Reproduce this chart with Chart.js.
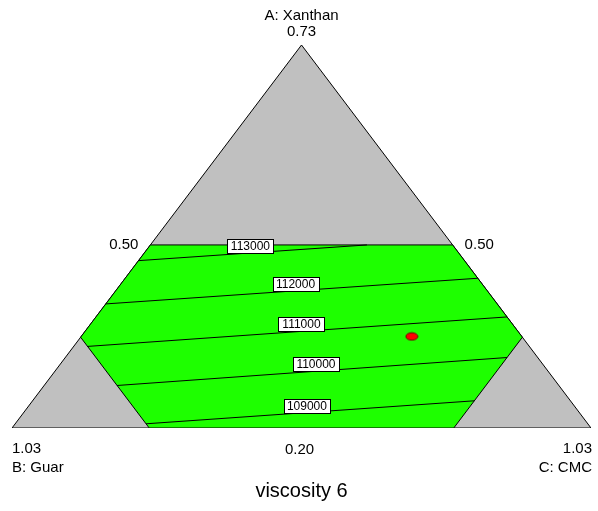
<!DOCTYPE html>
<html>
<head>
<meta charset="utf-8">
<script src="https://cdn.jsdelivr.net/npm/chart.js@4/dist/chart.umd.min.js"></script>
<style>
  html, body { margin: 0; padding: 0; background: #ffffff; }
  canvas { display: block; }
</style>
</head>
<body>
<canvas id="ternaryChart" width="598" height="511"></canvas>
<script>
// Ternary plot: viscosity 6 (pseudo component fractions a, b, c)
const vertexNames = ['A: Xanthan', 'B: Guar', 'C: CMC'];
const vertexMax = ['0.73', '1.03', '1.03'];
const edgeLabels = ['0.50', '0.50', '0.20'];
const chartTitle = 'viscosity 6';

// feasible region corners
const regionA = [0.478, 0.478, 0.237, 0.000, 0.000, 0.237];
const regionC = [0.000, 0.522, 0.763, 0.763, 0.237, 0.000];

// contour lines (start and end on region boundary)
const contourLevels = [113000, 112000, 111000, 110000, 109000];
const contourStartA = [0.437, 0.324, 0.213, 0.111, 0.011];
const contourStartC = [0.000, 0.000, 0.024, 0.126, 0.226];
const contourEndA = [0.478, 0.391, 0.290, 0.184, 0.071];
const contourEndC = [0.374, 0.609, 0.710, 0.763, 0.763];
const labelAt = [0.49, 0.51, 0.51, 0.51, 0.49];

// design point
const pointA = [0.239];
const pointC = [0.571];

const fontFamily = 'Arial, "Liberation Sans", sans-serif';

// a, c -> cartesian (b = 1 - a - c)
function toXY(a, c) {
  return { x: c + a / 2, y: a };
}

const trianglePts = [toXY(1, 0), toXY(0, 0), toXY(0, 1), toXY(1, 0)];
const regionPts = regionA.map((a, i) => toXY(a, regionC[i]));
regionPts.push(regionPts[0]);

const contourSets = contourLevels.map((level, i) => ({
  label: String(level),
  level: level,
  data: [toXY(contourStartA[i], contourStartC[i]), toXY(contourEndA[i], contourEndC[i])],
  borderColor: '#000000',
  borderWidth: 1,
  showLine: true,
  pointRadius: 0,
  fill: false,
  order: 3
}));

// small ellipse for the design point
const dotStyle = document.createElement('canvas');
dotStyle.width = 14;
dotStyle.height = 10;
(function() {
  const g = dotStyle.getContext('2d');
  g.beginPath();
  g.ellipse(7, 5, 6, 3.7, 0, 0, Math.PI * 2);
  g.fillStyle = '#ff0000';
  g.fill();
  g.strokeStyle = '#700000';
  g.lineWidth = 1;
  g.stroke();
})();

const ternaryText = {
  id: 'ternaryText',
  afterDatasetsDraw(chart) {
    const ctx = chart.ctx;
    const xs = chart.scales.x, ys = chart.scales.y;
    const px = p => xs.getPixelForValue(p.x);
    const py = p => ys.getPixelForValue(p.y);

    // contour labels
    ctx.save();
    ctx.font = '12px ' + fontFamily;
    ctx.textAlign = 'center';
    ctx.textBaseline = 'middle';
    chart.data.datasets.forEach((ds, i) => {
      if (!ds.level) return;
      const k = contourLevels.indexOf(ds.level);
      const p0 = ds.data[0], p1 = ds.data[1];
      const t = labelAt[k];
      const ax = px(p0) + (px(p1) - px(p0)) * t;
      const ay = py(p0) + (py(p1) - py(p0)) * t;
      const w = 46, h = 14;
      const left = Math.round(ax - w / 2) + 0.5, top = Math.round(ay - h) + 0.5;
      ctx.fillStyle = '#ffffff';
      ctx.fillRect(left, top, w, h);
      ctx.strokeStyle = '#000000';
      ctx.lineWidth = 1;
      ctx.strokeRect(left, top, w, h);
      ctx.fillStyle = '#000000';
      ctx.fillText(ds.label, ax, top + h / 2 + 0.5);
    });
    ctx.restore();

    // vertex and edge labels
    const apex = toXY(1, 0), bl = toXY(0, 0), br = toXY(0, 1);
    const topL = regionPts[0], topR = regionPts[1];
    ctx.save();
    ctx.fillStyle = '#000000';
    ctx.font = '15px ' + fontFamily;
    ctx.textBaseline = 'middle';

    ctx.textAlign = 'center';
    ctx.fillText(vertexNames[0], px(apex), py(apex) - 29);
    ctx.fillText(vertexMax[0], px(apex), py(apex) - 13);
    ctx.fillText(edgeLabels[2], px(toXY(0, 0.5)) - 2, py(bl) + 22);

    ctx.textAlign = 'left';
    ctx.fillText(vertexMax[1], px(bl), py(bl) + 21);
    ctx.fillText(vertexNames[1], px(bl), py(bl) + 40);
    ctx.fillText(edgeLabels[1], px(topR) + 12, py(topR));

    ctx.textAlign = 'right';
    ctx.fillText(vertexMax[2], px(br) + 1, py(br) + 21);
    ctx.fillText(vertexNames[2], px(br) + 1, py(br) + 40);
    ctx.fillText(edgeLabels[0], px(topL) - 12, py(topL));

    ctx.font = '20px ' + fontFamily;
    ctx.textAlign = 'center';
    ctx.fillText(chartTitle, px(toXY(0, 0.5)), py(bl) + 63);
    ctx.restore();
  }
};

new Chart(document.getElementById('ternaryChart'), {
  type: 'scatter',
  data: {
    datasets: [
      {
        label: 'design point',
        data: pointA.map((a, i) => toXY(a, pointC[i])),
        pointStyle: dotStyle,
        pointRadius: 6,
        showLine: false,
        order: 1
      },
      ...contourSets,
      {
        label: 'feasible region',
        data: regionPts,
        borderColor: '#000000',
        borderWidth: 1,
        backgroundColor: '#1eff00',
        showLine: true,
        pointRadius: 0,
        fill: 'shape',
        order: 4
      },
      {
        label: 'simplex',
        data: trianglePts,
        borderColor: '#000000',
        borderWidth: 1,
        backgroundColor: '#c0c0c0',
        showLine: true,
        pointRadius: 0,
        fill: 'shape',
        order: 5
      }
    ]
  },
  options: {
    responsive: false,
    animation: false,
    layout: {
      padding: { left: 12, right: 2, top: 45, bottom: 83 }
    },
    scales: {
      x: { type: 'linear', min: 0, max: 1, display: false },
      y: { type: 'linear', min: 0, max: 1, display: false }
    },
    plugins: {
      legend: { display: false },
      tooltip: { enabled: false }
    },
    elements: {
      line: { tension: 0 }
    }
  },
  plugins: [ternaryText]
});
</script>
</body>
</html>
